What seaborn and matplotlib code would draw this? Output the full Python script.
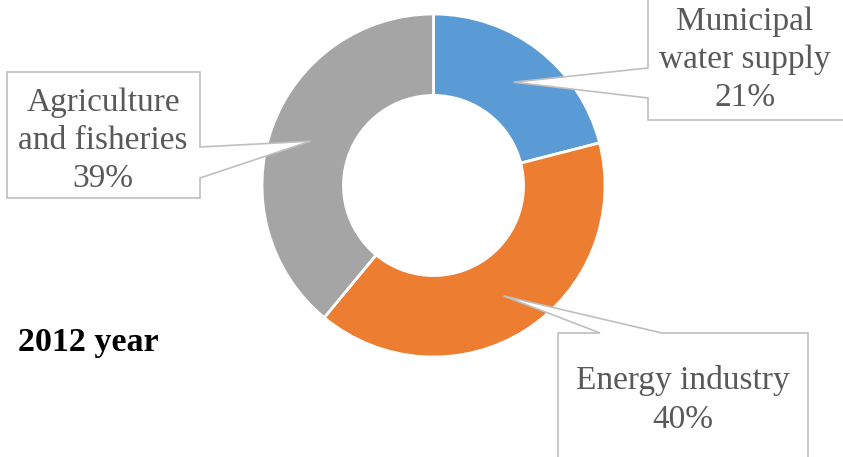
import numpy as np
import seaborn as sns
import matplotlib.pyplot as plt
from matplotlib.patches import Polygon

sns.set_theme(style="white")
plt.rcParams['font.family'] = ['Liberation Serif', 'DejaVu Serif']

categories = ['Municipal\nwater supply', 'Energy industry', 'Agriculture\nand fisheries']
shares = [21, 40, 39]
colors = sns.color_palette(['#5B9BD5', '#ED7D31', '#A5A5A5'])
title = '2012 year'

W, H = 843, 457
fig = plt.figure(figsize=(W / 100, H / 100), dpi=100)
ax = fig.add_axes([0, 0, 1, 1])

# pie in pixel coordinates (y axis inverted)
cx, cy, R = 433.5, 185.5, 171.5
hole = 0.525
wedges, _ = ax.pie(shares, colors=colors, startangle=-90, counterclock=True,
                   center=(cx, cy), radius=R,
                   wedgeprops=dict(width=R * (1 - hole), edgecolor='white', linewidth=2))
ax.set_xlim(0, W)
ax.set_ylim(H, 0)
ax.set_aspect('equal')
ax.axis('off')

# tip of each callout sits in the middle of the ring
tips = []
for w in wedges:
    ang = np.deg2rad((w.theta1 + w.theta2) / 2)
    r = R * (1 + hole) / 2
    tips.append((cx + r * np.cos(ang), cy + r * np.sin(ang)))

edge = '#BFBFBF'
txt = '#595959'

# callout outlines (pixels)
boxes = [
    [(648, -10), (860, -10), (860, 120), (648, 120), (648, 98), tips[0], (648, 68)],
    [(558, 333), (600, 333), tips[1], (662, 333), (808, 333), (808, 470), (558, 470)],
    [(7, 72), (200, 72), (200, 147), tips[2], (200, 178), (200, 198), (7, 198)],
]
for pts in boxes:
    ax.add_patch(Polygon(pts, closed=True, facecolor='white', edgecolor=edge,
                         linewidth=1.2, zorder=3, clip_on=False))

label_pos = [(745, 60), (683, 400), (103, 141)]
for cat, val, (x, y) in zip(categories, shares, label_pos):
    ax.text(x, y, f'{cat}\n{val}%', ha='center', va='center', fontsize=24,
            color=txt, linespacing=1.32, zorder=4)

ax.text(18, 342, title, ha='left', va='center', fontsize=24.5, fontweight='bold',
        color='black')

fig.savefig('out.png', dpi=100)
